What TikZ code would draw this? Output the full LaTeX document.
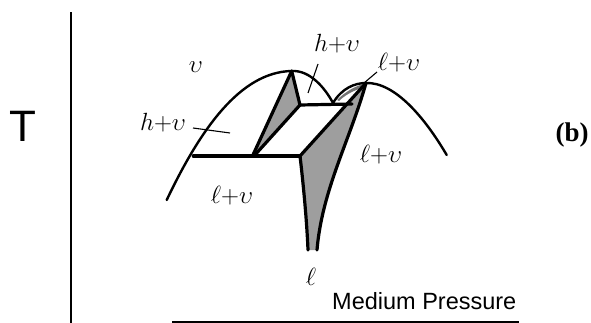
\documentclass[tikz,border=0pt]{standalone}
\usepackage{fontspec}
\setsansfont{Liberation Sans}
\newfontfamily\timesfont{Liberation Serif}
\begin{document}
\begin{tikzpicture}[x=1pt,y=-1pt,
  dome/.style={line width=2.4pt, line cap=round, line join=round},
  edge/.style={line width=3.2pt, line cap=round, line join=round},
  leader/.style={line width=1.1pt},
  axis/.style={line width=1.5pt},
  shade/.style={fill=black!38},
  lbl/.style={font=\fontsize{24}{28}\selectfont, inner sep=0pt}]
\useasboundingbox (0,0) rectangle (591,323);

% key points
\coordinate (pk1) at (291.7,71);
\coordinate (pk2) at (366,83);
\coordinate (pTL) at (300,105);
\coordinate (pTR) at (352,104);
\coordinate (pBL) at (254,156);
\coordinate (pBR) at (300,156);
\coordinate (hL) at (193.3,156);
\coordinate (tipL) at (308,250);
\coordinate (tipR) at (317,250);
\coordinate (d0) at (166.7,200);
\coordinate (dj) at (333,103);
\coordinate (d3) at (446.7,155);

% shaded regions
\fill[shade] (pk1) -- (pTL) -- (pBL) -- (252.5,156) -- cycle;
\fill[shade] (pBR) -- (pk2) .. controls (350,140) and (322,190) .. (tipR)
  -- (tipL) .. controls (307,225) and (304,190) .. (pBR) -- cycle;
\fill[black!55] (337,100) .. controls (345,92) and (355,86) .. (364,84)
  -- (362,88) .. controls (352,91) and (344,96) .. (339,101) -- cycle;

% domes
\draw[dome] (d0) .. controls (200,130) and (240,72) .. (pk1)
  .. controls (310,70) and (325,88) .. (dj);
\draw[dome] (dj) .. controls (342,88) and (355,83) .. (pk2)
  .. controls (395,82) and (425,118) .. (d3);

% thick boundaries
\draw[edge] (pk1) -- (252.5,156);
\draw[edge] (pk1) -- (pTL) -- (pBL);
\draw[edge] (pTL) -- (pTR);
\draw[edge] (hL) -- (pBR);
\draw[edge] (pBR) -- (pk2);
\draw[edge] (pk2) .. controls (350,140) and (322,190) .. (tipR);
\draw[edge] (pBR) .. controls (304,190) and (307,225) .. (tipL);

% axes
\draw[axis] (71,12.5) -- (71,323);
\draw[line width=1.4pt] (172,321.8) -- (519,321.8);

% labels
\node[font=\fontsize{44}{48}\selectfont\sffamily, anchor=base west, inner sep=0pt] (T) at (9,142) {T};
\node[font=\fontsize{27}{30}\selectfont\timesfont\bfseries, anchor=base, inner sep=0pt] (b) at (572,142) {(b)};
\node[font=\fontsize{23.5}{28}\selectfont\sffamily, anchor=base west, inner sep=0pt] (mp) at (332,309) {Medium Pressure};

\node[lbl, font=\fontsize{34}{38}\selectfont] (v) at (196,67) {$\upsilon$};
\node[lbl] (hv1) at (163,123) {$h{+}\upsilon$};
\node[lbl] (hv2) at (337,44) {$h{+}\upsilon$};
\node[lbl] (lv1) at (399,63) {$\ell{+}\upsilon$};
\node[lbl] (lv2) at (381,155) {$\ell{+}\upsilon$};
\node[lbl] (lv3) at (232,196) {$\ell{+}\upsilon$};
\node[lbl, font=\fontsize{32}{36}\selectfont] (l) at (311,277) {$\ell$};

% leaders
\coordinate (a1) at (193,128);
\coordinate (a2) at (230,133);
\draw[leader] (a1) -- (a2);
\coordinate (b1) at (318,64);
\coordinate (b2) at (308,93);
\draw[leader] (b1) -- (b2);
\coordinate (c1) at (377,72);
\coordinate (c2) at (364,83);
\draw[leader] (c1) -- (c2);
\end{tikzpicture}
\end{document}
